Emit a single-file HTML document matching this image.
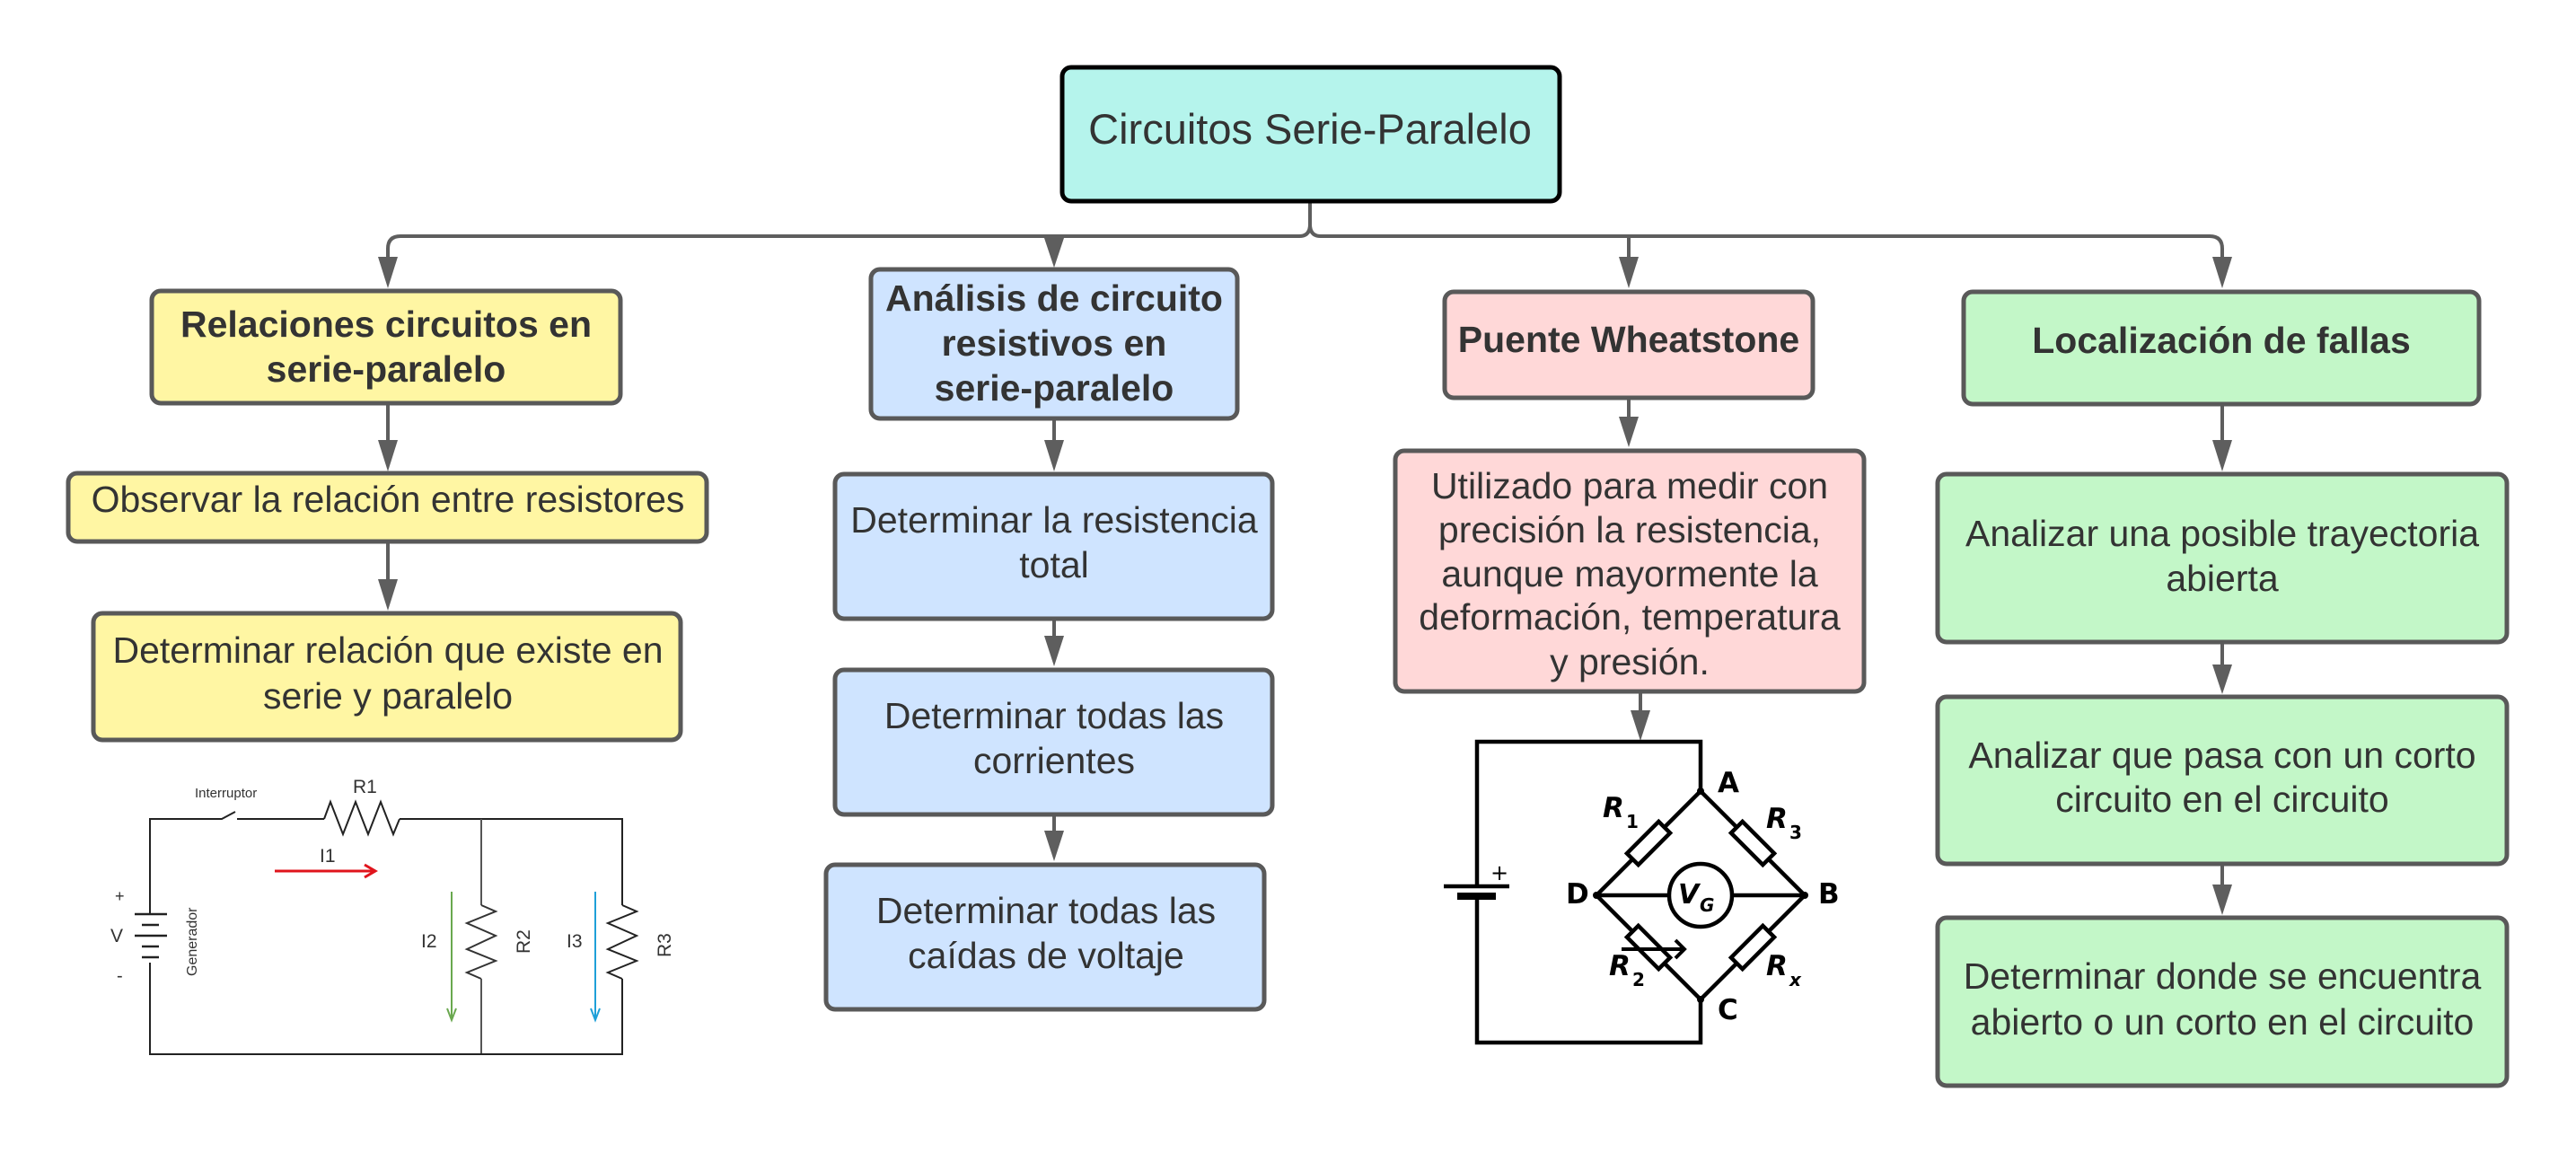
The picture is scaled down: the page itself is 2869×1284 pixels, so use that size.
<!DOCTYPE html>
<html><head><meta charset="utf-8"><style>
html,body{margin:0;padding:0;background:#fff;}
svg{display:block;}
.t{font-family:"Liberation Sans",sans-serif;fill:#333;text-anchor:middle;}
.r{font-size:41px;}
.b{font-size:41px;font-weight:bold;}
.bx{stroke:#595959;stroke-width:5;}
.ln{stroke:#5e5e5e;stroke-width:4;fill:none;}
.ah{fill:#5e5e5e;}
.bl{font-family:"DejaVu Sans","Liberation Sans",sans-serif;font-weight:bold;fill:#000;}
</style></head><body>
<svg width="2869" height="1284" viewBox="0 0 2869 1284" xmlns="http://www.w3.org/2000/svg">
<path class="ln" d="M1459 226 V250 Q1459 263 1447 263 H446 Q432 263 432 277 V290"/>
<path class="ln" d="M1459 250 Q1459 263 1471 263 H2461 Q2475 263 2475 277 V290"/>
<path class="ln" d="M1174 263 V290"/>
<path class="ln" d="M1814 263 V290"/>
<polygon class="ah" points="421,286 443,286 432,321"/>
<polygon class="ah" points="1163,265 1185,265 1174,298"/>
<polygon class="ah" points="1803,286 1825,286 1814,321"/>
<polygon class="ah" points="2464,286 2486,286 2475,321"/>
<path class="ln" d="M432 451 V495"/><polygon class="ah" points="421,490 443,490 432,525"/>
<path class="ln" d="M432 603 V650"/><polygon class="ah" points="421,645 443,645 432,680"/>
<path class="ln" d="M1174 468 V495"/><polygon class="ah" points="1163,490 1185,490 1174,525"/>
<path class="ln" d="M1174 690 V712"/><polygon class="ah" points="1163,708 1185,708 1174,742"/>
<path class="ln" d="M1174 908 V930"/><polygon class="ah" points="1163,925 1185,925 1174,959"/>
<path class="ln" d="M1814 444 V468"/><polygon class="ah" points="1803,464 1825,464 1814,498"/>
<path class="ln" d="M1827 771 V795"/><polygon class="ah" points="1816,791 1838,791 1827,825"/>
<path class="ln" d="M2475 451 V495"/><polygon class="ah" points="2464,490 2486,490 2475,525"/>
<path class="ln" d="M2475 716 V745"/><polygon class="ah" points="2464,740 2486,740 2475,773"/>
<path class="ln" d="M2475 963 V990"/><polygon class="ah" points="2464,985 2486,985 2475,1019"/>

<rect x="1183" y="75" width="554" height="149" rx="10" fill="#b5f4ec" stroke="#000" stroke-width="5"/>
<text class="t" x="1459" y="160" font-size="47">Circuitos Serie-Paralelo</text>

<rect class="bx" x="169" y="324" width="522" height="125" rx="10" fill="#fff6a3"/>
<text class="t b" x="430" y="375">Relaciones circuitos en</text>
<text class="t b" x="430" y="425">serie-paralelo</text>
<rect class="bx" x="76" y="527" width="711" height="76" rx="10" fill="#fff6a3"/>
<text class="t r" x="432" y="570">Observar la relación entre resistores</text>
<rect class="bx" x="104" y="683" width="654" height="141" rx="10" fill="#fff6a3"/>
<text class="t r" x="432" y="738">Determinar relación que existe en</text>
<text class="t r" x="432" y="789">serie y paralelo</text>

<rect class="bx" x="970" y="300" width="408" height="166" rx="10" fill="#cfe4ff"/>
<text class="t b" x="1174" y="346">Análisis de circuito</text>
<text class="t b" x="1174" y="396">resistivos en</text>
<text class="t b" x="1174" y="446">serie-paralelo</text>
<rect class="bx" x="930" y="528" width="487" height="161" rx="10" fill="#cfe4ff"/>
<text class="t r" x="1174" y="593">Determinar la resistencia</text>
<text class="t r" x="1174" y="643">total</text>
<rect class="bx" x="930" y="746" width="487" height="161" rx="10" fill="#cfe4ff"/>
<text class="t r" x="1174" y="811">Determinar todas las</text>
<text class="t r" x="1174" y="861">corrientes</text>
<rect class="bx" x="920" y="963" width="488" height="161" rx="10" fill="#cfe4ff"/>
<text class="t r" x="1165" y="1028">Determinar todas las</text>
<text class="t r" x="1165" y="1078">caídas de voltaje</text>

<rect class="bx" x="1609" y="325" width="410" height="118" rx="10" fill="#ffd8d8"/>
<text class="t b" x="1814" y="392">Puente Wheatstone</text>
<rect class="bx" x="1554" y="502" width="522" height="268" rx="10" fill="#ffd8d8"/>
<text class="t r" x="1815" y="555">Utilizado para medir con</text>
<text class="t r" x="1815" y="604">precisión la resistencia,</text>
<text class="t r" x="1815" y="653">aunque mayormente la</text>
<text class="t r" x="1815" y="701">deformación, temperatura</text>
<text class="t r" x="1815" y="751">y presión.</text>

<rect class="bx" x="2187" y="325" width="574" height="125" rx="10" fill="#c3f7c8"/>
<text class="t b" x="2474" y="393">Localización de fallas</text>
<rect class="bx" x="2158" y="528" width="634" height="187" rx="10" fill="#c3f7c8"/>
<text class="t r" x="2475" y="608">Analizar una posible trayectoria</text>
<text class="t r" x="2475" y="658">abierta</text>
<rect class="bx" x="2158" y="776" width="634" height="186" rx="10" fill="#c3f7c8"/>
<text class="t r" x="2475" y="855">Analizar que pasa con un corto</text>
<text class="t r" x="2475" y="904">circuito en el circuito</text>
<rect class="bx" x="2158" y="1022" width="634" height="187" rx="10" fill="#c3f7c8"/>
<text class="t r" x="2475" y="1101">Determinar donde se encuentra</text>
<text class="t r" x="2475" y="1152">abierto o un corto en el circuito</text>

<g fill="none" stroke="#222" stroke-width="2">
<path d="M167 1005 V912 H213"/>
<path d="M213 912 H247 L262 904"/>
<path d="M264 912 H297"/>
<path d="M297 912 H361"/>
<polyline points="361,912 368,893 382,929 396,893 410,929 424,893 438,929 445,912"/>
<path d="M445 912 H693 V1008"/>
<path stroke="#555" d="M536 912 V1008"/>
<polyline stroke="#333" points="536,1008 552,1015 520,1028 552,1042 520,1057 552,1070 520,1083 536,1090"/>
<polyline points="693,1008 709,1015 677,1028 709,1042 677,1057 709,1070 677,1083 693,1090"/>
<path stroke="#555" d="M536 1090 V1174"/>
<path d="M693 1090 V1174 H167 V1072"/>
<path stroke-width="2.5" d="M150 1018 H186 M158 1030 H177 M150 1042 H186 M158 1054 H177 M158 1066 H177"/>
<path d="M167 1005 V1018"/>
</g>
<path d="M306 970 H418 M406 963 L418 970 L406 977" stroke="#e0141c" stroke-width="3" fill="none"/>
<path d="M503 993 V1136 M498 1123 L503 1136 L508 1123" stroke="#6aa84f" stroke-width="2" fill="none"/>
<path d="M663 993 V1136 M658 1123 L663 1136 L668 1123" stroke="#1ea0d8" stroke-width="2" fill="none"/>
<g font-family="Liberation Sans, sans-serif" fill="#333">
<text x="217" y="888" font-size="15">Interruptor</text>
<text x="393" y="883" font-size="21">R1</text>
<text x="356" y="960" font-size="21">I1</text>
<text x="469" y="1055" font-size="21">I2</text>
<text x="631" y="1055" font-size="21">I3</text>
<text x="123" y="1049" font-size="21">V</text>
<text x="128" y="1004" font-size="18">+</text>
<text x="130" y="1093" font-size="20">-</text>
<text font-size="21" transform="translate(590 1062) rotate(-90)">R2</text>
<text font-size="21" transform="translate(747 1066) rotate(-90)">R3</text>
<text font-size="16" transform="translate(219 1087) rotate(-90)">Generador</text>
</g>

<g stroke="#000" stroke-width="4.5" fill="none">
<path d="M1645 987 V826 H1894 V881"/>
<path d="M1645 998 V1161 H1894 V1113"/>
<path d="M1608 987 H1681"/>
<path d="M1623 998 H1666" stroke-width="8"/>
<path d="M1894 881 L1778 997 L1894 1113 L2010 997 Z"/>
<path d="M1778 997 H1859 M1929 997 H2010"/>
</g>
<circle cx="1894" cy="997" r="35" fill="#fff" stroke="#000" stroke-width="4.5"/>
<g fill="#fff" stroke="#000" stroke-width="4.5">
<rect x="-25" y="-9" width="50" height="18" transform="translate(1836 939) rotate(-45)"/>
<rect x="-25" y="-9" width="50" height="18" transform="translate(1952 939) rotate(45)"/>
<rect x="-25" y="-9" width="50" height="18" transform="translate(1836 1055) rotate(45)"/>
<rect x="-25" y="-9" width="50" height="18" transform="translate(1952 1055) rotate(-45)"/>
</g>
<path d="M1806 1057 H1876 M1866 1047 L1876 1057 L1866 1067" stroke="#000" stroke-width="4" fill="none"/>
<g fill="#000">
<circle cx="1894" cy="881" r="4"/><circle cx="1778" cy="997" r="4"/>
<circle cx="2010" cy="997" r="4"/><circle cx="1894" cy="1113" r="4"/>
</g>
<text x="1660" y="980" font-family="DejaVu Sans, sans-serif" font-size="24">+</text>
<g class="bl">
<text x="1913" y="882" font-size="31">A</text>
<text x="1744" y="1006" font-size="31">D</text>
<text x="2025" y="1006" font-size="31">B</text>
<text x="1913" y="1135" font-size="31">C</text>
<text x="1785" y="910" font-size="31" font-style="italic">R</text><text x="1811" y="922" font-size="20">1</text>
<text x="1967" y="922" font-size="31" font-style="italic">R</text><text x="1993" y="934" font-size="20">3</text>
<text x="1792" y="1086" font-size="31" font-style="italic">R</text><text x="1818" y="1098" font-size="20">2</text>
<text x="1967" y="1086" font-size="31" font-style="italic">R</text><text x="1993" y="1098" font-size="20" font-style="italic">x</text>
<text x="1869" y="1006" font-size="30" font-style="italic">V</text><text x="1893" y="1015" font-size="20" font-style="italic">G</text>
</g>
</svg>
</body></html>
